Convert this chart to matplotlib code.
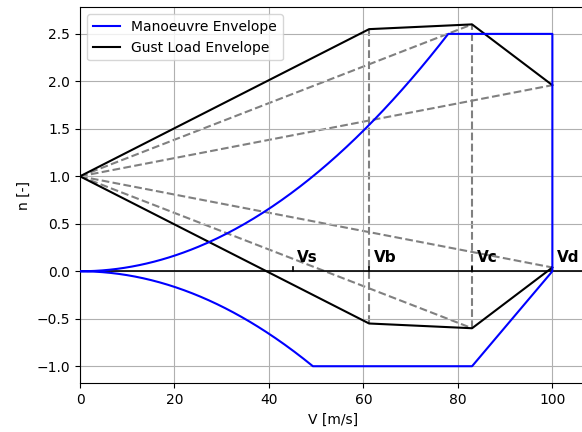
import numpy as np
import matplotlib
matplotlib.use("Agg")
import matplotlib.pyplot as plt

# Characteristic speeds [m/s]
speed_labels = ["Vs", "Vb", "Vc", "Vd"]
speed_values = [45.0, 61.2, 83.0, 100.0]

# Manoeuvre limits
n_max = 2.5
n_min = -1.0
v_stall_pos = 49.3   # speed at which CLmax gives n = 1 (positive)
v_stall_neg = 49.3   # same for negative lift

# Gust load increments at Vb, Vc, Vd (added to / subtracted from n = 1)
gust_delta = [1.55, 1.60, 0.96]

Vs, Vb, Vc, Vd = speed_values

# --- Manoeuvre envelope -------------------------------------------------
v_pos_corner = v_stall_pos * np.sqrt(n_max)
v_curve_pos = np.linspace(0, v_pos_corner, 200)
n_curve_pos = (v_curve_pos / v_stall_pos) ** 2

v_neg_corner = v_stall_neg * np.sqrt(-n_min)
v_curve_neg = np.linspace(0, v_neg_corner, 200)
n_curve_neg = -(v_curve_neg / v_stall_neg) ** 2

man_v = np.concatenate([v_curve_pos, [Vd, Vd]])
man_n = np.concatenate([n_curve_pos, [n_max, 0.0]])
man_v = np.concatenate([man_v, [Vc], v_curve_neg[::-1]])
man_n = np.concatenate([man_n, [n_min], n_curve_neg[::-1]])

# --- Gust envelope ------------------------------------------------------
gust_speeds = [Vb, Vc, Vd]
gust_up = [1 + d for d in gust_delta]
gust_dn = [1 - d for d in gust_delta]

fig = plt.figure(figsize=(5.82, 4.32), dpi=100)
ax = fig.add_axes([0.1375, 0.1127, 0.8684, 0.8704])

ax.plot(man_v, man_n, color="blue", lw=1.5, label="Manoeuvre Envelope", zorder=3)
ax.plot([0] + gust_speeds, [1] + gust_up, color="k", lw=1.5,
        label="Gust Load Envelope", zorder=2)
ax.plot([0] + gust_speeds, [1] + gust_dn, color="k", lw=1.5, zorder=2)

# Gust lines from n = 1 at zero speed
for v, up, dn in zip(gust_speeds[1:], gust_up[1:], gust_dn[1:]):
    ax.plot([0, v], [1, up], ls="--", color="gray", lw=1.5, zorder=1)
    ax.plot([0, v], [1, dn], ls="--", color="gray", lw=1.5, zorder=1)
for v, up, dn in zip(gust_speeds[:2], gust_up[:2], gust_dn[:2]):
    ax.plot([v, v], [dn, up], ls="--", color="gray", lw=1.5, zorder=1)

# Speed axis with markers
ax.axhline(0, color="k", lw=1.2, zorder=2)
for name, v in zip(speed_labels, speed_values):
    ax.plot([v, v], [0, 0.05], color="k", lw=1.2, zorder=2)
    ax.text(v + 1, 0.1, name, fontsize=11, fontweight="bold")

ax.set_xlim(0, 107)
ax.set_ylim(-1.18, 2.78)
ax.set_xlabel("V [m/s]")
ax.set_ylabel("n [-]")
ax.grid(True)
ax.legend(loc="upper left")

fig.savefig("out.png", dpi=100)
